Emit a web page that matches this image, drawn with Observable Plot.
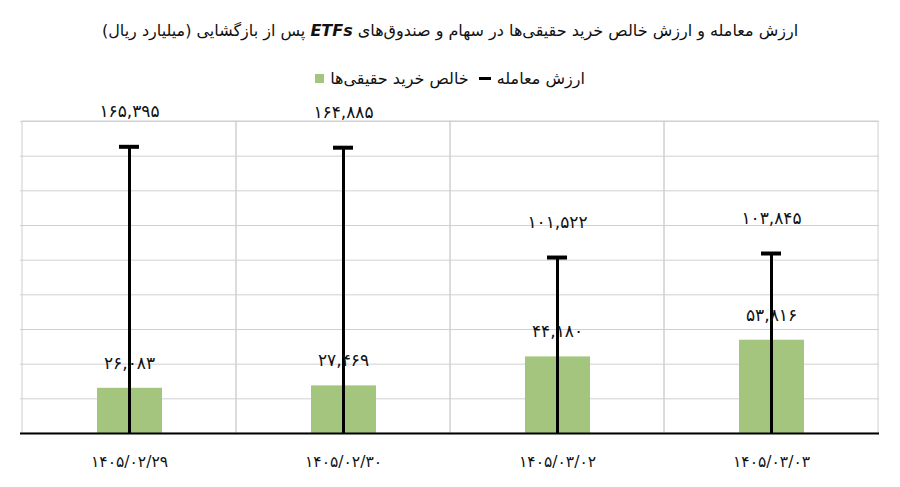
<!DOCTYPE html>
<html>
<head>
<meta charset="utf-8">
<script src="https://cdn.jsdelivr.net/npm/d3@7"></script>
<script src="https://cdn.jsdelivr.net/npm/@observablehq/plot@0.6"></script>
<style>
  body { margin: 0; background: #fff; font-family: "DejaVu Sans", sans-serif; }
  #wrap { width: 900px; }
  #title { height: 56px; line-height: 62px; text-align: center; font-size: 16px; color: #111; direction: rtl; }
  #legend { height: 44px; display: flex; justify-content: center; align-items: center; gap: 10px; direction: rtl; font-size: 16px; color: #111; }
  .item { display: flex; align-items: center; gap: 6px; }
  .sw { width: 9px; height: 9px; background: #a3c57d; }
  .dash { width: 12px; height: 3px; background: #000; }
</style>
</head>
<body>
<div id="wrap">
  <div id="title">ارزش معامله و ارزش خالص خرید حقیقی‌ها در سهام و صندوق‌های <b><i>ETFs</i></b> پس از بازگشایی (میلیارد ریال)</div>
  <div id="legend">
    <div class="item"><span>ارزش معامله</span><div class="dash"></div></div>
    <div class="item"><span>خالص خرید حقیقی‌ها</span><div class="sw"></div></div>
  </div>
  <div id="chart"></div>
</div>
<script>
const dates = ["1405/02/29", "1405/02/30", "1405/03/02", "1405/03/03"];
const tradeValue = [165395, 164885, 101522, 103845];
const netBuy = [26083, 27469, 44180, 53816];
const yMax = 180000;
const yTicks = d3.range(0, yMax + 1, 20000);

const fa = new Intl.NumberFormat("fa-IR", {useGrouping: true});
const faNum = v => fa.format(v).replace(/٬/g, ",");
const faDate = s => s.replace(/\d/g, d => "۰۱۲۳۴۵۶۷۸۹"[d]);

const data = dates.map((d, i) => ({date: d, trade: tradeValue[i], net: netBuy[i]}));

const chart = Plot.plot({
  width: 900,
  height: 387,
  marginLeft: 20,
  marginRight: 21,
  marginTop: 21,
  marginBottom: 54,
  style: {fontFamily: "DejaVu Sans, sans-serif", background: "#fff"},
  x: {domain: dates, padding: 0, label: null},
  y: {domain: [0, yMax], axis: null},
  marks: [
    Plot.gridY(yTicks, {stroke: "#d0d0d0", strokeOpacity: 1, strokeWidth: 1}),
    Plot.barY(data, {x: "date", y1: 0, y2: () => yMax, fill: "none", stroke: "#d0d0d0", strokeWidth: 1}),
    Plot.barY(data, {x: "date", y: "net", fill: "#a3c57d", insetLeft: 75, insetRight: 74}),
    Plot.ruleX(data, {x: "date", y1: 0, y2: "trade", stroke: "#000", strokeWidth: 3}),
    Plot.tickY(data, {x: "date", y: "trade", stroke: "#000", strokeWidth: 4, insetLeft: 97, insetRight: 97}),
    Plot.ruleY([0], {stroke: "#000", strokeWidth: 2}),
    Plot.axisX({tickFormat: faDate, tickSize: 0, tickPadding: 22, fontSize: 15.5, fill: "#111", label: null}),
    Plot.text(data, {x: "date", y: "trade", text: d => faNum(d.trade), dy: -35, fontSize: 17, fill: "#111"}),
    Plot.text(data, {x: "date", y: "net", text: d => faNum(d.net), dy: -25, fontSize: 17, fill: "#111"})
  ]
});
document.getElementById("chart").appendChild(chart);
</script>
</body>
</html>
